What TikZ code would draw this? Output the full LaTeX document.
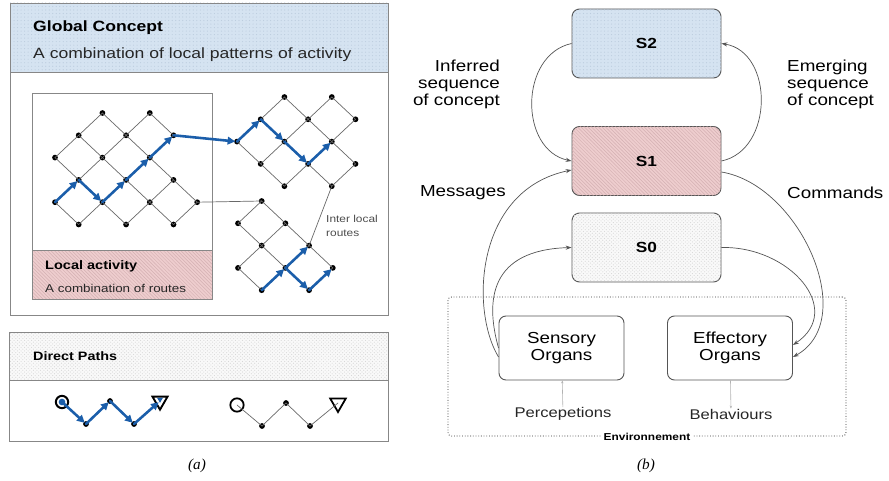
\documentclass[tikz,border=0pt]{standalone}
\usepackage{fontspec}
\setmainfont{Liberation Sans}[FakeStretch=1.18]
\newfontfamily\capfont{Liberation Serif}
\usepackage{tikz}
\usetikzlibrary{calc, arrows.meta, patterns, shapes.geometric}
\usepackage{tkz-euclide}

\definecolor{conceptblue}{RGB}{213,227,241}
\definecolor{conceptdot}{RGB}{188,204,222}
\definecolor{activitypink}{RGB}{238,205,206}
\definecolor{activityhatch}{RGB}{212,176,178}
\definecolor{pathgray}{RGB}{249,249,249}
\definecolor{pathdot}{RGB}{215,215,215}
\definecolor{routeblue}{RGB}{27,94,170}
\definecolor{edgegray}{RGB}{105,105,105}
\definecolor{framegray}{RGB}{135,135,135}
\definecolor{flowgray}{RGB}{85,85,85}

\tikzset{
  frame/.style={draw=framegray, line width=0.8pt},
  title/.style={font=\bfseries\fontsize{12.7}{15}\selectfont, inner sep=0pt, anchor=west},
  body/.style={font=\fontsize{12.7}{15}\selectfont, text=black!85, inner sep=0pt, anchor=west},
  dot/.style={circle, fill=black, inner sep=0pt, minimum size=4.9pt},
  lattice/.style={draw=edgegray, line width=0.6pt},
  route/.style={draw=routeblue, line width=2.2pt, -{Triangle[length=6.5pt,width=6.5pt]}, shorten >=1.5pt},
  note/.style={font=\fontsize{8.6}{12.5}\selectfont, text=black!70, inner sep=0pt, anchor=west, align=left},
  state/.style={draw=flowgray, line width=0.8pt, rounded corners=6.5pt, minimum width=4.47cm,
    minimum height=2.07cm, font=\bfseries\fontsize{12.5}{15}\selectfont},
  organ/.style={draw=flowgray, line width=0.8pt, rounded corners=6pt, minimum width=3.75cm,
    minimum height=1.92cm, align=center, font=\fontsize{13.6}{14.5}\selectfont},
  side/.style={font=\fontsize{13.6}{14.5}\selectfont, inner sep=0pt},
  small/.style={font=\fontsize{12}{14}\selectfont, text=black!85, inner sep=0pt},
  flow/.style={draw=flowgray, line width=0.6pt, -{Stealth[length=5pt,width=3.5pt]}},
  feed/.style={draw=black!30, line width=0.5pt, -{Stealth[length=2.5pt,width=2pt]}},
  figcap/.style={font=\capfont\itshape\fontsize{13}{15}\selectfont, inner sep=0pt}
}

\begin{document}
\begin{tikzpicture}[x=0.03cm, y=-0.03cm]
\useasboundingbox (0,0) rectangle (889,481);

% (a) global concept panel
\fill[conceptblue] (10,3) rectangle (388,72);
\fill[pattern=dots, pattern color=conceptdot] (10,3) rectangle (388,72);
\draw[frame] (10,72) -- (388,72);
\draw[frame] (10,3) rectangle (388,315);
\node[title] (gtitle) at (33,28) {Global Concept};
\node[body] (gsub) at (33,55) {A combination of local patterns of activity};

% local activity box
\fill[activitypink] (32,250) rectangle (212,299);
\fill[pattern=north west lines, pattern color=activityhatch] (32,250) rectangle (212,299);
\draw[frame] (32,250) -- (212,250);
\draw[frame] (32,93) rectangle (212,299);
\node[title, font=\bfseries\fontsize{10.5}{12}\selectfont] (ltitle) at (45,266) {Local activity};
\node[body, font=\fontsize{9.7}{12}\selectfont] (lsub) at (45,288) {A combination of routes};

% lattices
\foreach \i/\j in {2/0,4/0,1/1,3/1,5/1,0/2,2/2,4/2,1/3,3/3,5/3,0/4,2/4,4/4,6/4,1/5,3/5,5/5}
  \node[dot] (L\i\j) at ({55+23.7*\i},{113+22.3*\j}) {};
\foreach \i/\j in {2/0,4/0,1/1,3/1,5/1,0/2,2/2,4/2,1/3,3/3,5/3,2/4,4/4}
  \node[dot] (T\i\j) at ({237+23.7*\i},{97+22.3*\j}) {};
\foreach \i/\j in {1/0,0/1,2/1,1/2,3/2,0/3,2/3,4/3,1/4,3/4}
  \node[dot] (B\i\j) at ({238+23.7*\i},{201+22.3*\j}) {};

\tkzDrawSegments[lattice](L20,L11 L20,L31 L40,L31 L40,L51 L11,L02 L11,L22 L31,L22 L31,L42 L51,L42
  L02,L13 L22,L13 L22,L33 L42,L33 L42,L53 L13,L04 L13,L24 L33,L24 L33,L44 L53,L44 L53,L64
  L04,L15 L24,L15 L24,L35 L44,L35 L44,L55 L64,L55)
\tkzDrawSegments[lattice](T20,T11 T20,T31 T40,T31 T40,T51 T11,T02 T11,T22 T31,T22 T31,T42 T51,T42
  T02,T13 T22,T13 T22,T33 T42,T33 T42,T53 T13,T24 T33,T24 T33,T44 T53,T44)
\tkzDrawSegments[lattice](B10,B01 B10,B21 B01,B12 B21,B12 B21,B32 B12,B03 B12,B23 B32,B23 B32,B43
  B03,B14 B23,B14 B23,B34 B43,B34)
\tkzDrawSegments[lattice](L64,B10 T44,B32)
\tkzDrawSegments[route](L04,L13 L13,L24 L24,L33 L33,L42 L42,L51 L51,T02 T02,T11 T11,T22 T22,T33
  T33,T42 B14,B23 B23,B32 B23,B34 B34,B43)
\node[note] (ilr) at (326,226) {Inter local\\routes};

% direct paths panel
\fill[pathgray] (9,332) rectangle (388,380);
\fill[pattern=crosshatch dots, pattern color=pathdot] (9,332) rectangle (388,380);
\draw[frame] (9,380) -- (388,380);
\draw[frame] (9,332) rectangle (388,441);
\node[title, font=\bfseries\fontsize{10.4}{12}\selectfont] (dtitle) at (33,356) {Direct Paths};

\node[circle, draw, line width=1.7pt, minimum size=0.37cm, inner sep=0pt] (c0) at (62,402) {};
\node[circle, fill=routeblue, minimum size=0.2cm, inner sep=0pt] (c0in) at (62,402) {};
\node[dot] (d1) at (86,424) {};
\node[dot] (d2) at (110,401) {};
\node[dot] (d3) at (134,424) {};
\node[regular polygon, regular polygon sides=3, shape border rotate=180, draw, line width=1.6pt,
  minimum size=0.52cm, inner sep=0pt] (t0) at (160,401) {};
\node[regular polygon, regular polygon sides=3, shape border rotate=180, fill=routeblue,
  minimum size=0.2cm, inner sep=0pt] (t0in) at (160,399.5) {};
\tkzDrawSegments[route](c0,d1 d1,d2 d2,d3 d3,t0)

\node[circle, draw, line width=1.5pt, minimum size=0.4cm, inner sep=0pt] (c1) at (237,405) {};
\node[dot] (e1) at (262,426) {};
\node[dot] (e2) at (286,403) {};
\node[dot] (e3) at (310,426) {};
\node[regular polygon, regular polygon sides=3, shape border rotate=180, draw, line width=1.5pt,
  minimum size=0.54cm, inner sep=0pt] (t1) at (338,403) {};
\tkzDrawSegments[lattice](c1,e1 e1,e2 e2,e3 e3,t1)

\node[figcap] (capa) at (197,466) {(a)};

% (b) levels
\node[draw=black!80, line width=0.7pt, dash pattern=on 0.7pt off 1.6pt, rounded corners=3pt,
  minimum width=11.94cm, minimum height=4.17cm] (env) at (647,366.5) {};
\node[fill=white, inner sep=1.5pt, font=\bfseries\fontsize{8.6}{10}\selectfont] (envl) at (env.south) {Environnement};

\node[state, fill=conceptblue, postaction={pattern=dots, pattern color=conceptdot}] (S2) at (646.5,43.5) {S2};
\node[state, fill=activitypink, postaction={pattern=north west lines, pattern color=activityhatch}] (S1) at (646.5,161) {S1};
\node[state, fill=pathgray, postaction={pattern=crosshatch dots, pattern color=pathdot}] (S0) at (646.5,247.5) {S0};
\node[organ] (sens) at (561.5,348) {Sensory\\Organs};
\node[organ] (eff) at (730,348) {Effectory\\Organs};

\node[side, anchor=east, align=right] (inf) at (500,84) {Inferred\\sequence\\of concept};
\node[side, anchor=west, align=left] (emg) at (787,84) {Emerging\\sequence\\of concept};
\node[side, anchor=east] (msg) at (506,193) {Messages};
\node[side, anchor=west] (cmd) at (787,193) {Commands};
\node[small] (perc) at (563,414) {Percepetions};
\node[small] (beh) at (731,414) {Behaviours};

\draw[flow] (S2.west) .. controls (519,55) and (519,150) .. (S1.west);
\draw[flow] (S1.east) .. controls (774,150) and (774,52) .. (S2.east);
\draw[flow] ($(sens.west)+(0,9)$) .. controls (470,310) and (475,190) .. ($(S1.west)+(0,9)$);
\draw[flow] (sens.west) .. controls (485,300) and (490,250) .. (S0.west);
\draw[flow] ($(S1.east)+(0,11)$) .. controls (800,185) and (860,320) .. ($(eff.east)+(0,9)$);
\draw[flow] (S0.east) .. controls (790,246) and (845,310) .. ($(eff.east)+(0,-3)$);
\draw[feed] (perc) -- (sens);
\draw[feed] (eff) -- (beh);

\node[figcap] (capb) at (646,466) {(b)};
\end{tikzpicture}
\end{document}
